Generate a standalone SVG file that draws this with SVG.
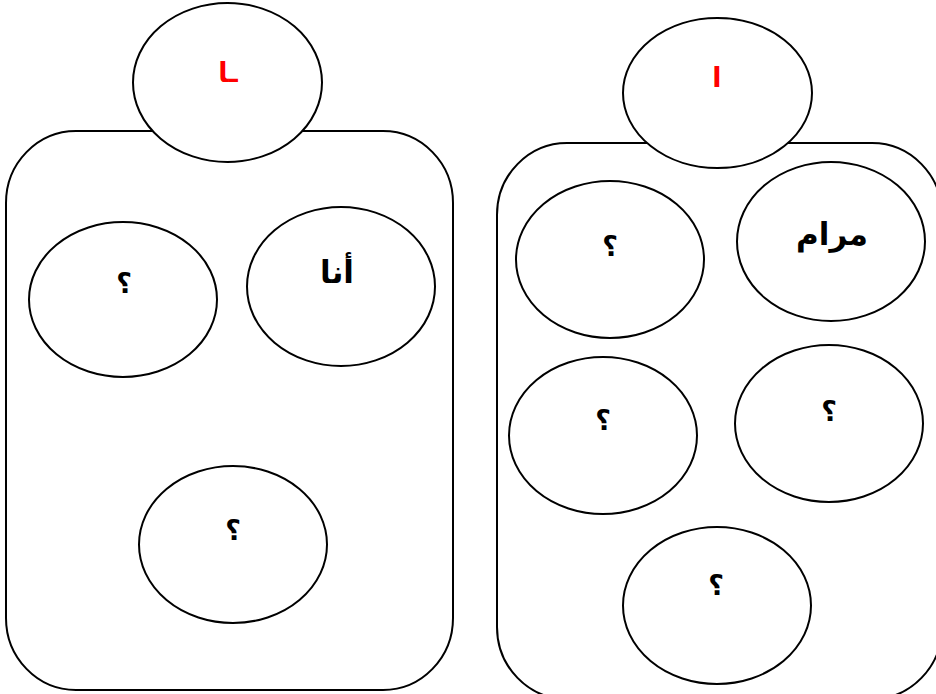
<svg xmlns="http://www.w3.org/2000/svg" width="936" height="694" viewBox="0 0 936 694">
<style>
.box{fill:#fff;stroke:#000;stroke-width:2}
.el{fill:#fff;stroke:#000;stroke-width:2}
.t{font-family:"DejaVu Sans","Liberation Serif",serif;font-weight:bold;font-size:27px;text-anchor:middle;fill:#000}
.w{font-size:31px}
.r{fill:#f00}
</style>
<rect width="936" height="694" fill="#fff"/>
<g id="panel-left">
<rect class="box" x="6" y="131" width="447" height="559" rx="70" ry="72"/>
</g>
<g id="panel-right">
<rect class="box" x="497" y="143" width="445" height="556" rx="70" ry="72"/>
</g>
<g id="head-left"><ellipse class="el" cx="227.5" cy="82.5" rx="94.5" ry="79.5"/><text class="t r" x="228" y="82" direction="rtl">ـا</text></g>
<g id="head-right"><ellipse class="el" cx="717.5" cy="93" rx="94.5" ry="75"/><text class="t r" x="717" y="87" direction="rtl">ا</text></g>
<g id="l1"><ellipse class="el" cx="123" cy="299.5" rx="94" ry="77.5"/><text class="t" x="124" y="293">؟</text></g>
<g id="l2"><ellipse class="el" cx="341" cy="286.5" rx="94" ry="79.5"/><text class="t w" x="337" y="283" direction="rtl">أنا</text></g>
<g id="l3"><ellipse class="el" cx="233" cy="544.5" rx="94" ry="78.5"/><text class="t" x="233" y="540">؟</text></g>
<g id="r1"><ellipse class="el" cx="610" cy="259.5" rx="94" ry="78.5"/><text class="t" x="610" y="256">؟</text></g>
<g id="r2"><ellipse class="el" cx="831" cy="241.5" rx="94" ry="79.5"/><text class="t w" x="832" y="245" direction="rtl">مرام</text></g>
<g id="r3"><ellipse class="el" cx="603" cy="435.5" rx="94" ry="78.5"/><text class="t" x="603" y="430">؟</text></g>
<g id="r4"><ellipse class="el" cx="829" cy="423.5" rx="94" ry="78.5"/><text class="t" x="829" y="421">؟</text></g>
<g id="r5"><ellipse class="el" cx="717" cy="605.5" rx="94" ry="78.5"/><text class="t" x="716" y="595">؟</text></g>
<g id="connectors"></g>
</svg>
